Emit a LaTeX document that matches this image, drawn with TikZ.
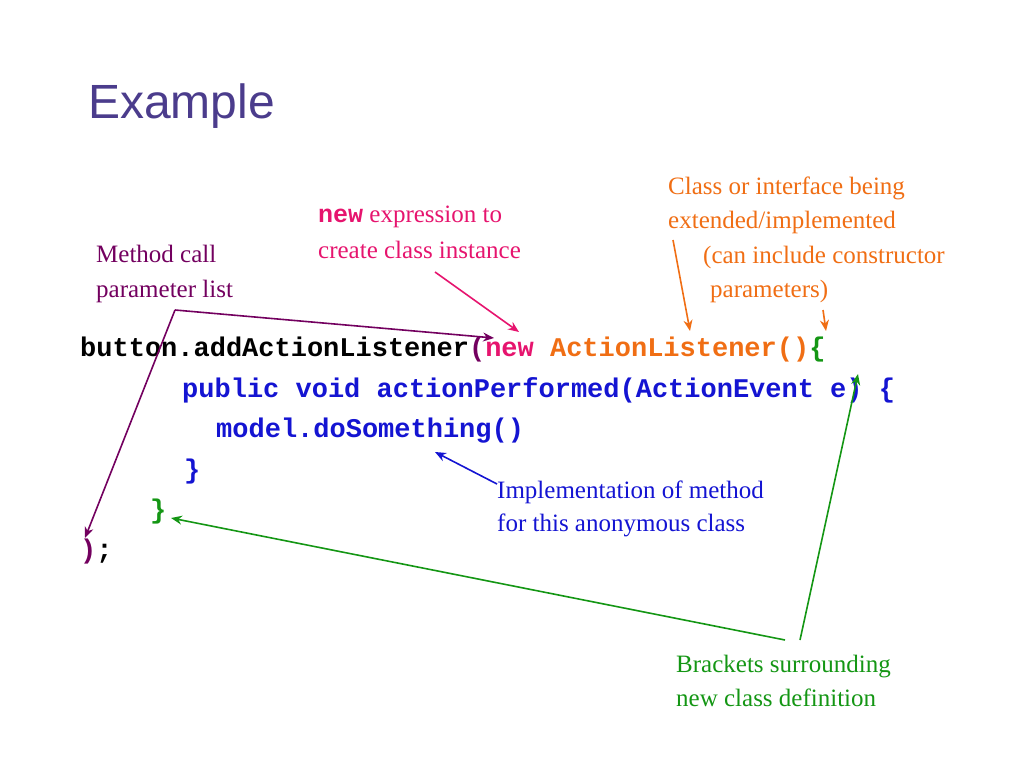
\documentclass[tikz,border=0pt]{standalone}
\usepackage{fontspec}
\setmainfont{Liberation Serif}
\setsansfont{Liberation Sans}
\setmonofont{Liberation Mono}
\usetikzlibrary{arrows.meta}
\definecolor{ttl}{RGB}{75,60,140}
\definecolor{cpur}{RGB}{115,0,95}
\definecolor{cpink}{RGB}{230,20,110}
\definecolor{corg}{RGB}{240,110,20}
\definecolor{cblue}{RGB}{20,20,210}
\definecolor{cgrn}{RGB}{20,150,20}
\begin{document}
\begin{tikzpicture}[x=1pt,y=-1pt,
  lbl/.style={anchor=base west,inner sep=0pt,font=\fontsize{25}{30}\selectfont,align=left},
  code/.style={anchor=base west,inner sep=0pt,font=\fontsize{27}{32}\selectfont\ttfamily\bfseries},
  arr/.style={-{Stealth[length=11pt,width=9pt]},line width=1.6pt}]
\useasboundingbox (0,0) rectangle (1024,768);
\node[anchor=base west,inner sep=0pt,font=\sffamily\fontsize{48}{56}\selectfont,text=ttl] (title) at (88,118) {Example};
% labels
\node[lbl,text=cpur] (l1) at (96,262) {Method call};
\node[lbl,text=cpur] (l1b) at (96,297) {parameter list};
\node[lbl,text=cpink] (l2) at (318,222) {{\ttfamily\bfseries new} expression to};
\node[lbl,text=cpink] (l2b) at (318,258) {create class instance};
\node[lbl,text=corg] (l3) at (668,194) {Class or interface being};
\node[lbl,text=corg] (l3b) at (668,228) {extended/implemented};
\node[lbl,text=corg] (l3c) at (703,263) {(can include constructor};
\node[lbl,text=corg] (l3d) at (710,297) {parameters)};
\node[lbl,text=cblue] (l4) at (497,498) {Implementation of method};
\node[lbl,text=cblue] (l4b) at (497,531) {for this anonymous class};
\node[lbl,text=cgrn] (l5) at (676,672) {Brackets surrounding};
\node[lbl,text=cgrn] (l5b) at (676,706) {new class definition};
% code
\node[code] (c1) at (80,356) {button.addActionListener\textcolor{cpur}{(}\textcolor{cpink}{new} \textcolor{corg}{ActionListener()}\textcolor{cgrn}{\{}};
\node[code,text=cblue] (c2) at (182,397) {public void actionPerformed(ActionEvent e) \{};
\node[code,text=cblue] (c3) at (216,437) {model.doSomething()};
\node[code,text=cblue] (c4) at (184,478) {\}};
\node[code,text=cgrn] (c5) at (150,518) {\}};
\node[code] (c6) at (80,558) {\textcolor{cpur}{)};};
% connectors
\coordinate (pc) at (175,310);
\coordinate (pe1) at (494,338);
\coordinate (pe2) at (85,538);
\draw[arr,cpur] (pc) -- (pe1);
\draw[arr,cpur] (pc) -- (pe2);
\coordinate (pk1) at (435,272); \coordinate (pk2) at (519,332);
\draw[arr,cpink] (pk1) -- (pk2);
\coordinate (o1) at (673,240); \coordinate (o2) at (690,331);
\draw[arr,corg] (o1) -- (o2);
\coordinate (o3) at (823,310); \coordinate (o4) at (826,331);
\draw[arr,corg] (o3) -- (o4);
\coordinate (b1) at (497,484); \coordinate (b2) at (435,452);
\draw[arr,cblue] (b1) -- (b2);
\coordinate (g1) at (785,640); \coordinate (g2) at (171,518);
\draw[arr,cgrn] (g1) -- (g2);
\coordinate (g3) at (800,640); \coordinate (g4) at (858,374);
\draw[arr,cgrn] (g3) -- (g4);
\end{tikzpicture}
\end{document}
